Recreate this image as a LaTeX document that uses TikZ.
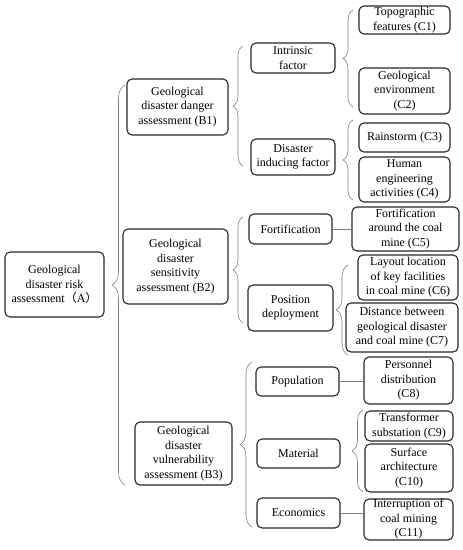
\documentclass[tikz,border=0pt]{standalone}
\usepackage{fontspec}
\setmainfont{Liberation Serif}
\newfontfamily\cjkfont{Noto Sans CJK SC}
\usetikzlibrary{decorations.pathreplacing}

\begin{document}
\begin{tikzpicture}[x=1pt, y=-1pt]

\useasboundingbox (0, 0) rectangle (463, 550);

\tikzstyle{item box} = [draw=black!85, line width=1.1pt, rounded corners=5pt, align=center, inner sep=0pt, font=\fontsize{12}{14.5}\selectfont]
\tikzstyle{brace line} = [draw=black!50, line width=0.6pt, decorate, decoration={brace, amplitude=10pt}]
\tikzstyle{link line} = [draw=black!50, line width=1pt]

% goal

\node [item box, minimum width=99pt, minimum height=65pt] (A) at (54.5, 284.5)
	{Geological\\disaster risk\\assessment{\cjkfont （}A{\cjkfont ）}} ;

% criteria

\node [item box, minimum width=101pt, minimum height=56pt] (B1) at (177.5, 107)
	{Geological\\disaster danger\\assessment (B1)} ;
\node [item box, minimum width=105pt, minimum height=75pt] (B2) at (175.5, 266.5)
	{Geological\\disaster\\sensitivity\\assessment (B2)} ;
\node [item box, minimum width=97pt, minimum height=63pt] (B3) at (183.5, 453.5)
	{Geological\\disaster\\vulnerability\\assessment (B3)} ;

% factors

\node [item box, minimum width=84pt, minimum height=30pt] (intrinsic) at (293, 58) {Intrinsic\\factor} ;
\node [item box, minimum width=84pt, minimum height=36pt] (inducing) at (293, 157) {Disaster\\inducing factor} ;
\node [item box, minimum width=83pt, minimum height=30pt] (fortif) at (290.5, 229) {Fortification} ;
\node [item box, minimum width=85pt, minimum height=46pt] (position) at (290.5, 308) {Position\\deployment} ;
\node [item box, minimum width=83pt, minimum height=29pt] (population) at (297.5, 381.5) {Population} ;
\node [item box, minimum width=83pt, minimum height=29pt] (material) at (298.5, 453.5) {Material} ;
\node [item box, minimum width=83pt, minimum height=30pt] (economics) at (298.5, 513) {Economics} ;

% indicators

\node [item box, minimum width=91pt, minimum height=28pt] (C1) at (404.5, 20) {Topographic\\features (C1)} ;
\node [item box, minimum width=91pt, minimum height=46pt] (C2) at (404.5, 91) {Geological\\environment\\(C2)} ;
\node [item box, minimum width=91pt, minimum height=29pt] (C3) at (404.5, 137.5) {Rainstorm (C3)} ;
\node [item box, minimum width=91pt, minimum height=45pt] (C4) at (404.5, 179.5) {Human\\engineering\\activities (C4)} ;
\node [item box, minimum width=107pt, minimum height=44pt] (C5) at (405.5, 229) {Fortification\\around the coal\\mine (C5)} ;
\node [item box, minimum width=100pt, minimum height=45pt] (C6) at (408, 277.5) {Layout location\\of key facilities\\in coal mine (C6)} ;
\node [item box, minimum width=112pt, minimum height=49pt] (C7) at (402, 327.5) {Distance between\\geological disaster\\and coal mine (C7)} ;
\node [item box, minimum width=89pt, minimum height=47pt] (C8) at (408.5, 380.5) {Personnel\\distribution\\(C8)} ;
\node [item box, minimum width=88pt, minimum height=30pt] (C9) at (409, 426) {Transformer\\substation (C9)} ;
\node [item box, minimum width=88pt, minimum height=48pt] (C10) at (409, 468) {Surface\\architecture\\(C10)} ;
\node [item box, minimum width=89pt, minimum height=41pt] (C11) at (408.5, 519.5) {Interruption of\\coal mining\\(C11)} ;

% braces

\newcommand{\groupbrace}[4]{\draw [brace line, decoration={amplitude=#4pt}] (#1, #3) -- (#1, #2) ;}

\groupbrace{125}{85}{485}{13}
\groupbrace{243}{46}{166}{10}
\groupbrace{243}{217}{323}{10}
\groupbrace{252}{362}{527}{12}
\groupbrace{353}{10}{107}{10}
\groupbrace{353}{120}{200}{10}
\groupbrace{348}{265}{355}{12}
\groupbrace{363}{410}{492}{11}

% single links

\draw [link line] (fortif.east) -- (C5.west |- fortif.east) ;
\draw [link line] (population.east) -- (C8.west |- population.east) ;
\draw [link line] (economics.east) -- (C11.west |- economics.east) ;

\end{tikzpicture}
\end{document}
